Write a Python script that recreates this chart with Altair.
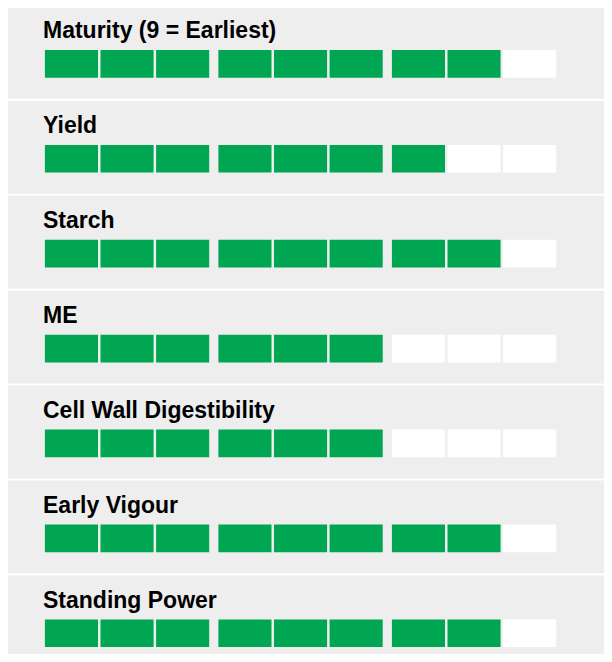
import altair as alt
import pandas as pd

# ---- data ----
categories = [
    "Maturity (9 = Earliest)",
    "Yield",
    "Starch",
    "ME",
    "Cell Wall Digestibility",
    "Early Vigour",
    "Standing Power",
]
scores = [8, 7, 8, 6, 6, 8, 8]
max_score = 9

# ---- layout / style (chart pixel units) ----
W, H = 596, 646
ROW_PITCH = 94.9
PANEL_TOP = -2
PANEL_H = 92.8
SEG_X0 = 36.9
SEG_W = 53.1
SEG_STEP = 55.6
GROUP_GAP = 6.7
SEG_Y0 = 42
SEG_H = 27.7
LABEL_X = 35
LABEL_BASE = 30.3
GREEN = "#00a651"
PANEL_GREY = "#eeeeee"

rows = pd.DataFrame({"row": list(range(len(categories))), "category": categories, "score": scores})
segs = pd.DataFrame(
    [
        {"row": r, "seg": s, "state": "filled" if s < scores[r] else "empty"}
        for r in range(len(categories))
        for s in range(max_score)
    ]
)

xs = alt.Scale(domain=[0, W], nice=False, zero=False)
ys = alt.Scale(domain=[0, H], nice=False, zero=False, reverse=True)

panels = (
    alt.Chart(rows)
    .transform_calculate(
        py0=f"max(0, {PANEL_TOP} + datum.row * {ROW_PITCH})",
        py1=f"min({H}, {PANEL_TOP} + datum.row * {ROW_PITCH} + {PANEL_H})",
        px0="0",
        px1=f"{W}",
    )
    .mark_rect(color=PANEL_GREY, clip=True)
    .encode(
        x=alt.X("px0:Q", scale=xs, axis=None),
        x2="px1:Q",
        y=alt.Y("py0:Q", scale=ys, axis=None),
        y2="py1:Q",
    )
)

bars = (
    alt.Chart(segs)
    .transform_calculate(
        sx0=f"{SEG_X0} + datum.seg * {SEG_STEP} + floor(datum.seg / 3) * {GROUP_GAP}",
    )
    .transform_calculate(
        sx1=f"datum.sx0 + {SEG_W}",
        sy0=f"{SEG_Y0} + datum.row * {ROW_PITCH}",
    )
    .transform_calculate(sy1=f"datum.sy0 + {SEG_H}")
    .mark_rect()
    .encode(
        x=alt.X("sx0:Q", scale=xs, axis=None),
        x2="sx1:Q",
        y=alt.Y("sy0:Q", scale=ys, axis=None),
        y2="sy1:Q",
        color=alt.Color(
            "state:N",
            scale=alt.Scale(domain=["filled", "empty"], range=[GREEN, "#ffffff"]),
            legend=None,
        ),
    )
)

labels = (
    alt.Chart(rows)
    .transform_calculate(
        lx=f"{LABEL_X}",
        ly=f"{LABEL_BASE} + datum.row * {ROW_PITCH}",
    )
    .mark_text(
        align="left",
        baseline="alphabetic",
        font="Liberation Sans",
        fontWeight="bold",
        fontSize=23,
        color="#000000",
    )
    .encode(
        x=alt.X("lx:Q", scale=xs, axis=None),
        y=alt.Y("ly:Q", scale=ys, axis=None),
        text="category:N",
    )
)

chart = (
    alt.layer(panels, bars, labels)
    .properties(width=W, height=H, autosize=alt.AutoSizeParams(type="none"), padding=0, background="#ffffff")
    .configure_view(stroke=None)
)

chart.save("out.html", embed_options={"renderer": "svg", "actions": False})
